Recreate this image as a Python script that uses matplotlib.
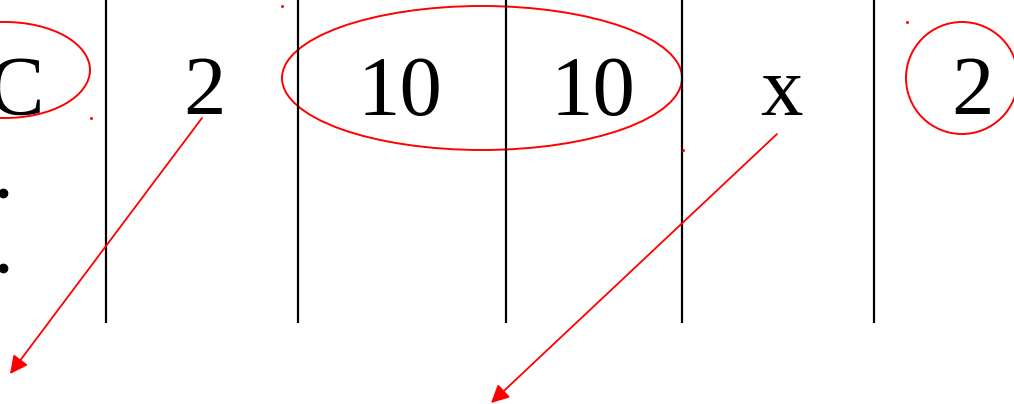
import matplotlib
matplotlib.use('Agg')
import matplotlib.pyplot as plt
from matplotlib.patches import Ellipse

# figure is laid out in pixel units of the reference (y grows downward)
W, H = 1014, 404

labels = ['C', '2', '10', '10', 'x', '2']
label_x = [16, 204, 400, 593, 781, 972]
label_base = 115

dividers = [106, 298, 506, 682, 874]
divider_bottom = 323

dots_x = [3, 3]
dots_y = [193, 268]

# red ellipses: (cx, cy, width, height)
ellipses = [(5, 70, 170, 96), (482, 78, 400, 144), (962, 78, 112, 112)]
handles = [(91, 118), (282, 6), (683, 150), (907, 22)]

# arrows: (start, tip)
arrows = [((202, 118), (10, 374)), ((777, 134), (491, 403))]

fig = plt.figure(figsize=(W / 100, H / 100), dpi=100)
ax = fig.add_axes([0, 0, 1, 1])
ax.set_xlim(0, W)
ax.set_ylim(H, 0)
ax.set_axis_off()

for x in dividers:
    ax.plot([x, x], [0, divider_bottom], color='black', lw=1.6, solid_capstyle='butt')

for s, x in zip(labels, label_x):
    ax.text(x, label_base, s, family=['Liberation Serif', 'DejaVu Serif'],
            fontsize=61, ha='center', va='baseline', color='black')

ax.plot(dots_x, dots_y, 'o', color='black', ms=6)

for cx, cy, w, h in ellipses:
    ax.add_patch(Ellipse((cx, cy), w, h, fill=False, edgecolor='#ff0000', lw=1.4))

hx, hy = zip(*handles)
ax.plot(hx, hy, 's', color='#ff0000', ms=1)

for (x0, y0), (x1, y1) in arrows:
    ax.annotate('', xy=(x1, y1), xytext=(x0, y0),
                arrowprops=dict(arrowstyle='-|>,head_length=0.6,head_width=0.3',
                                mutation_scale=18, color='#ff0000', lw=1.3,
                                shrinkA=0, shrinkB=0))

fig.savefig('out.png', dpi=100)
